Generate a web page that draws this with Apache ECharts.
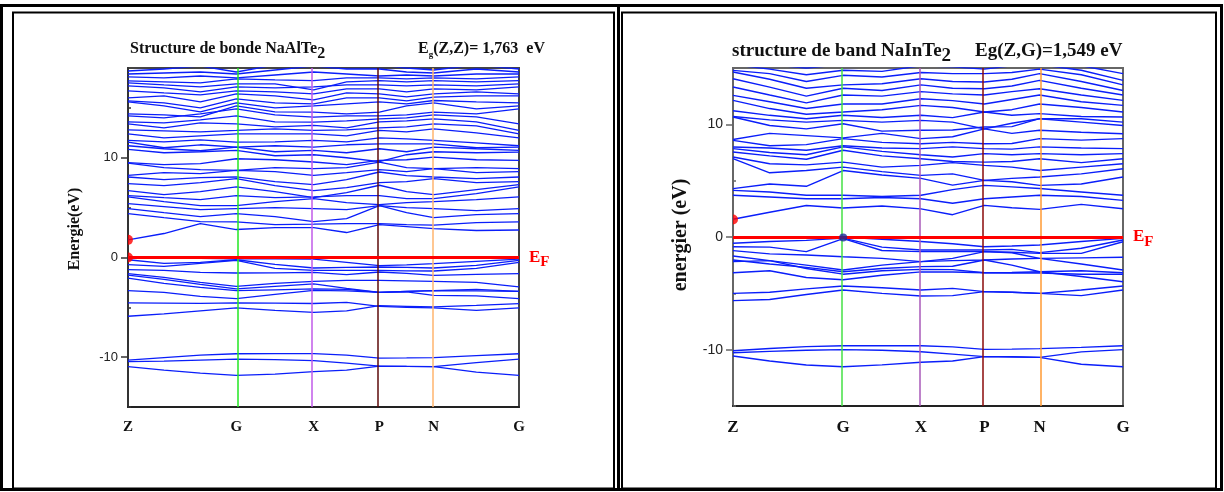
<!DOCTYPE html>
<html>
<head>
<meta charset="utf-8">
<title>Structure de bande NaAlTe2 / NaInTe2</title>
<script src="https://cdn.jsdelivr.net/npm/echarts@6.0.0/dist/echarts.min.js"></script>
<style>
  html, body { margin: 0; padding: 0; background: #fff; }
  #chart { width: 1224px; height: 492px; }
</style>
</head>
<body>
<div id="chart"></div>
<script>
// points de haute symetrie
const kNames = ['Z', 'G', 'X', 'P', 'N', 'G'];
const kSymAl = [0, 0.277, 0.475, 0.643, 0.782, 1];
const kSymIn = [0, 0.2825, 0.482, 0.6446, 0.786, 1];
// abscisses des points k
const kPathAl = [0, 0.092, 0.185, 0.277, 0.376, 0.475, 0.559, 0.643, 0.7125, 0.782, 0.891, 1];
const kPathIn = [0, 0.094, 0.188, 0.2825, 0.382, 0.482, 0.563, 0.6446, 0.715, 0.786, 0.893, 1];

// gaps (eV)
const gapAl = 1.763;
const gapIn = 1.549;

// NaAlTe2 - bandes (eV)
const alDeep = [
  [-10.30, -10.05, -9.80, -9.66, -9.65, -9.65, -9.80, -10.10, -10.08, -10.05, -9.85, -9.66],
  [-10.45, -10.40, -10.30, -10.20, -10.25, -10.35, -10.60, -10.90, -10.93, -10.95, -10.55, -10.20],
  [-10.96, -11.30, -11.60, -11.83, -11.70, -11.45, -11.30, -10.90, -10.93, -10.96, -11.50, -11.83]
];
const alSemi = [
  [-4.56, -4.58, -4.60, -4.56, -4.58, -4.62, -4.50, -4.90, -5.00, -5.06, -5.30, -5.06],
  [-5.90, -5.65, -5.35, -5.06, -5.30, -5.50, -5.35, -4.83, -4.90, -4.96, -4.80, -4.63]
];
const alValence = [
  [0.00, -0.05, -0.10, -0.13, -0.15, -0.16, -0.50, -0.83, -0.75, -0.63, -0.40, -0.16],
  [-0.23, -0.60, -0.50, -0.23, -0.70, -1.06, -1.00, -0.96, -1.00, -1.06, -0.80, -0.30],
  [-0.73, -0.90, -0.60, -0.30, -1.10, -1.30, -1.30, -1.30, -1.35, -1.36, -1.10, -0.50],
  [-1.23, -1.30, -1.50, -1.56, -1.55, -1.50, -1.73, -1.46, -1.60, -1.80, -1.70, -1.63],
  [-1.63, -2.00, -2.50, -2.90, -2.60, -2.40, -2.30, -2.30, -2.35, -2.40, -2.50, -2.96],
  [-1.77, -2.20, -2.70, -3.16, -2.90, -2.66, -3.10, -3.50, -3.40, -3.33, -3.35, -3.40],
  [-2.07, -2.60, -3.00, -3.33, -3.25, -3.16, -3.20, -3.50, -3.45, -3.80, -3.85, -4.13],
  [-3.33, -3.50, -3.90, -4.13, -3.70, -3.30, -3.35, -3.50, -3.40, -3.33, -3.20, -3.40]
];
const alConduction = [
  [1.76, 2.40, 3.40, 2.80, 3.00, 3.00, 2.50, 3.30, 3.10, 2.90, 2.70, 2.75],
  [4.40, 4.00, 3.60, 3.57, 3.30, 3.34, 3.40, 3.40, 3.30, 3.24, 3.50, 3.57],
  [4.90, 4.50, 4.10, 4.40, 4.10, 3.60, 3.90, 5.20, 4.50, 4.00, 4.30, 4.40],
  [5.40, 5.10, 4.80, 4.90, 5.00, 4.90, 4.80, 5.20, 5.00, 4.90, 4.70, 4.90],
  [6.07, 5.60, 5.20, 5.20, 5.60, 5.90, 5.50, 5.30, 5.50, 5.60, 5.80, 6.07],
  [6.20, 6.00, 5.80, 6.20, 6.00, 6.07, 6.20, 6.20, 5.90, 5.90, 6.40, 7.07],
  [6.70, 6.30, 6.60, 7.07, 6.60, 6.00, 6.50, 7.24, 6.60, 6.30, 6.80, 7.30],
  [7.40, 7.20, 7.50, 7.90, 7.20, 6.70, 7.00, 7.50, 7.60, 7.90, 7.50, 7.60],
  [8.07, 7.80, 8.00, 8.07, 7.60, 7.30, 7.80, 8.57, 8.20, 8.07, 7.90, 8.07],
  [8.24, 8.50, 8.40, 8.74, 8.60, 8.24, 8.50, 8.80, 8.60, 8.90, 8.50, 8.60],
  [9.47, 9.00, 8.80, 8.74, 9.00, 8.90, 9.00, 9.57, 9.00, 8.90, 9.00, 8.90],
  [9.50, 9.30, 9.40, 9.90, 9.80, 9.57, 9.30, 9.74, 9.80, 10.07, 9.80, 9.74],
  [10.84, 10.50, 10.60, 10.74, 10.20, 10.30, 10.00, 9.60, 10.30, 10.60, 10.50, 10.57],
  [11.20, 10.90, 10.70, 11.07, 10.60, 10.74, 10.50, 10.90, 10.60, 11.07, 10.90, 10.74],
  [11.57, 11.00, 11.30, 11.07, 11.20, 11.07, 11.30, 11.40, 11.40, 11.40, 11.00, 11.07],
  [11.74, 11.60, 11.80, 11.57, 11.60, 11.74, 11.60, 12.00, 11.90, 11.74, 11.50, 11.20],
  [12.40, 12.00, 12.20, 12.40, 12.40, 12.40, 12.20, 12.74, 12.60, 12.90, 12.50, 12.00],
  [12.80, 12.70, 12.60, 12.74, 12.90, 12.74, 12.80, 13.00, 13.10, 13.40, 13.20, 12.40],
  [13.40, 13.00, 13.50, 13.40, 13.10, 13.24, 13.00, 13.60, 13.70, 13.90, 13.60, 12.74],
  [13.60, 13.50, 13.80, 14.20, 13.60, 13.57, 13.70, 13.90, 14.00, 14.30, 14.10, 13.40],
  [14.20, 14.00, 14.40, 14.90, 14.30, 14.07, 14.20, 14.20, 14.30, 14.57, 14.40, 14.90],
  [14.40, 14.30, 14.10, 15.20, 14.60, 14.57, 14.40, 14.57, 15.20, 15.50, 14.90, 15.20],
  [15.60, 15.20, 14.60, 15.50, 15.00, 15.20, 15.40, 15.60, 15.40, 15.74, 15.60, 15.50],
  [15.70, 15.50, 15.00, 15.90, 15.50, 15.40, 16.00, 16.00, 15.70, 16.07, 16.20, 16.20],
  [16.00, 16.20, 15.60, 16.40, 16.20, 15.80, 16.50, 16.40, 16.10, 16.40, 16.60, 16.40],
  [16.70, 16.50, 16.30, 16.70, 16.60, 16.40, 16.90, 16.90, 16.60, 16.90, 16.80, 17.10],
  [17.20, 17.00, 16.60, 17.10, 17.00, 17.10, 17.30, 17.30, 17.20, 17.30, 17.20, 17.40],
  [17.50, 17.30, 17.10, 17.40, 17.40, 16.80, 17.60, 17.74, 17.60, 17.74, 17.60, 17.74],
  [17.70, 17.60, 17.50, 17.90, 17.80, 17.74, 18.00, 18.00, 17.90, 18.00, 17.90, 18.10],
  [18.10, 18.00, 18.20, 18.00, 18.30, 18.60, 18.40, 18.20, 18.30, 18.20, 18.40, 18.40],
  [18.40, 18.50, 18.60, 18.40, 18.80, 19.20, 18.90, 18.90, 18.60, 18.50, 18.90, 18.60],
  [18.70, 18.90, 19.20, 18.60, 19.30, 19.60, 19.40, 19.30, 19.00, 18.80, 19.30, 18.90]
];

// NaInTe2 - bandes (eV)
const inDeep = [
  [-10.10, -9.90, -9.73, -9.65, -9.65, -9.65, -9.75, -9.97, -9.95, -9.91, -9.80, -9.65],
  [-10.27, -10.15, -10.05, -10.00, -10.05, -10.18, -10.40, -10.62, -10.62, -10.68, -10.20, -10.00],
  [-10.56, -11.00, -11.36, -11.51, -11.35, -11.12, -11.00, -10.62, -10.65, -10.68, -11.30, -11.51]
];
const inSemi = [
  [-5.00, -4.90, -4.60, -4.35, -4.50, -4.70, -4.56, -4.85, -4.90, -5.00, -4.70, -4.35],
  [-5.65, -5.55, -5.10, -4.70, -5.00, -5.24, -5.20, -4.85, -4.90, -5.00, -5.20, -4.70]
];
const inValence = [
  [-0.12, -0.10, -0.10, 0.00, -0.20, -0.40, -0.60, -0.86, -0.80, -0.71, -0.40, -0.12],
  [-0.56, -0.40, -0.30, -0.10, -0.90, -1.15, -1.15, -1.15, -1.10, -1.39, -1.00, -0.27],
  [-0.86, -0.90, -1.30, -0.15, -1.20, -1.30, -1.30, -1.30, -1.35, -1.45, -1.45, -0.42],
  [-1.21, -1.50, -1.60, -1.75, -1.90, -2.19, -2.10, -2.04, -1.95, -1.90, -1.85, -1.80],
  [-1.69, -2.10, -2.50, -2.93, -2.50, -2.19, -1.90, -1.30, -1.40, -1.90, -2.40, -2.93],
  [-2.04, -2.40, -2.70, -3.08, -2.80, -2.63, -2.60, -2.04, -2.50, -3.08, -3.00, -3.17],
  [-2.19, -2.10, -2.80, -3.30, -3.00, -2.87, -2.90, -3.17, -3.15, -3.08, -3.50, -3.97],
  [-3.17, -3.00, -3.60, -3.80, -3.40, -3.10, -3.10, -3.17, -3.20, -3.20, -3.30, -3.30]
];
const inConduction = [
  [1.57, 2.20, 2.80, 2.57, 2.75, 2.50, 1.98, 2.81, 2.60, 2.45, 2.90, 2.51],
  [3.70, 3.55, 3.40, 3.40, 3.50, 3.40, 3.00, 3.40, 3.55, 3.70, 3.60, 3.25],
  [4.14, 4.00, 3.70, 3.70, 3.60, 3.70, 4.20, 4.58, 4.45, 4.30, 4.00, 3.70],
  [4.29, 4.70, 4.50, 5.90, 5.50, 5.20, 4.60, 5.03, 4.90, 4.58, 4.70, 5.33],
  [6.95, 5.70, 5.90, 6.20, 5.80, 5.47, 5.60, 5.03, 5.20, 5.33, 5.60, 6.06],
  [7.10, 6.50, 6.40, 6.65, 6.20, 6.36, 6.60, 6.36, 6.20, 5.90, 6.20, 6.50],
  [7.54, 7.20, 6.90, 7.70, 7.20, 6.95, 6.70, 6.65, 6.70, 6.95, 6.60, 6.95],
  [7.84, 7.50, 7.30, 8.00, 7.60, 7.30, 7.10, 7.40, 7.30, 7.40, 7.30, 7.40],
  [7.99, 7.90, 7.70, 8.10, 7.90, 7.84, 8.00, 7.84, 7.80, 8.00, 7.90, 7.84],
  [8.58, 8.10, 8.20, 8.73, 8.40, 8.28, 8.40, 8.28, 8.30, 8.73, 8.60, 8.73],
  [8.65, 9.20, 9.00, 8.80, 9.20, 8.73, 8.90, 9.60, 9.20, 9.47, 9.30, 9.17],
  [10.65, 9.90, 9.60, 10.05, 9.40, 9.47, 9.50, 9.76, 9.80, 10.50, 10.20, 9.90],
  [10.70, 10.40, 10.20, 10.35, 10.20, 10.35, 10.20, 9.60, 10.10, 10.50, 10.50, 10.20],
  [11.20, 10.80, 10.50, 10.80, 10.60, 10.80, 10.60, 11.09, 10.80, 10.95, 10.70, 10.65],
  [12.13, 11.40, 10.90, 11.09, 11.30, 11.68, 11.50, 11.09, 11.30, 11.80, 11.50, 11.09],
  [12.57, 12.00, 11.40, 11.80, 11.80, 12.27, 12.10, 11.80, 12.20, 12.60, 12.00, 11.68],
  [13.31, 12.60, 11.90, 12.60, 12.50, 12.90, 12.70, 12.60, 12.90, 13.16, 12.60, 12.13],
  [14.05, 13.30, 12.50, 13.20, 13.00, 13.50, 13.20, 13.16, 13.40, 13.90, 13.20, 12.60],
  [14.64, 14.00, 13.20, 13.50, 13.60, 14.05, 13.80, 13.76, 14.00, 14.50, 13.80, 13.00],
  [14.79, 14.50, 13.80, 14.35, 14.20, 14.60, 14.50, 14.50, 14.60, 14.90, 14.40, 13.50],
  [15.30, 14.90, 14.40, 14.80, 14.70, 15.20, 15.10, 14.90, 15.20, 15.30, 14.80, 13.90],
  [15.60, 15.30, 15.00, 15.30, 15.20, 15.60, 15.50, 15.40, 15.60, 15.70, 15.20, 14.50]
];

// extrema (points marques sur la figure)
const alDots = [[0, 0], [0, gapAl]];
const inRedDots = [[0, gapIn]];
const inBlueDots = [[0.2825, -0.05]];

const kColorsAl = ['#22e622', '#c05ae8', '#5c0a0a', '#ffb46e'];
const kColorsIn = ['#44e044', '#a858b8', '#8a0a0a', '#ff9a33'];

const SERIF = "'Liberation Serif', 'Times New Roman', serif";
const SANS = "'Liberation Sans', Arial, sans-serif";
// demi-disque : le point est coupe par l'axe
const HALF_DOT = 'path://M0,0A10,10,0,0,1,0,20Z';

var chart = echarts.init(document.getElementById('chart'));

function bandSeries(bands, kPath, gi, width) {
  return bands.map(function (b) {
    return {
      type: 'line',
      xAxisIndex: gi,
      yAxisIndex: gi * 2,
      data: kPath.map(function (k, i) { return [k, b[i]]; }),
      showSymbol: false,
      silent: true,
      animation: false,
      lineStyle: { color: '#0a1efa', width: width },
      z: 2
    };
  });
}

function kName(kSym) {
  return function (v) {
    for (var i = 0; i < kSym.length; i++) {
      if (Math.abs(kSym[i] - v) < 1e-6) return kNames[i];
    }
    return '';
  };
}

function xAxisFor(gi, kSym, size) {
  return {
    type: 'value', gridIndex: gi, min: 0, max: 1,
    axisLine: { onZero: false, lineStyle: { color: '#222', width: 2 } },
    axisTick: { show: false },
    splitLine: { show: false },
    axisLabel: {
      customValues: kSym,
      formatter: kName(kSym),
      margin: 13,
      fontFamily: SERIF, fontWeight: 'bold', fontSize: size, color: '#111'
    }
  };
}

function yAxesFor(gi, max, size, axisColor) {
  return [{
    type: 'value', gridIndex: gi, min: -15, max: max,
    axisLine: { show: true, onZero: false, lineStyle: { color: axisColor, width: 2 } },
    axisTick: { customValues: [-10, 0, 10], length: 7, lineStyle: { color: axisColor, width: 1.5 } },
    axisLabel: { customValues: [-10, 0, 10], fontFamily: SANS, fontSize: size, color: '#222', margin: 10 },
    splitLine: { show: false }
  }, {
    type: 'value', gridIndex: gi, min: -15, max: max,
    axisLine: { show: false },
    axisTick: { customValues: max > 15 ? [-15, -5, 5, 15] : [-15, -5, 5], length: 3, lineStyle: { color: axisColor, width: 1.5 } },
    axisLabel: { show: false },
    splitLine: { show: false }
  }];
}

function kLines(kSym, colors, gi, dots, efSize) {
  var lines = kSym.slice(1, 5).map(function (k, i) {
    return { xAxis: k, lineStyle: { color: colors[i], width: 1.5, type: 'solid' } };
  });
  lines.push({
    yAxis: 0,
    lineStyle: { color: '#ff0000', width: 3, type: 'solid' },
    label: {
      show: true, position: 'end', distance: 10,
      formatter: '{e|E}{f|F}',
      rich: {
        e: { fontFamily: SERIF, fontWeight: 'bold', fontSize: efSize, color: '#ff0000' },
        f: { fontFamily: SERIF, fontWeight: 'bold', fontSize: efSize - 2, color: '#ff0000', padding: [10, 0, 0, 0] }
      }
    }
  });
  return {
    type: 'scatter', xAxisIndex: gi, yAxisIndex: gi * 2,
    data: dots, symbol: HALF_DOT, symbolSize: [5, 10], symbolOffset: [2.5, 0],
    clip: true, silent: true, animation: false,
    itemStyle: { color: '#ff0000' }, z: 5,
    markLine: {
      silent: true, animation: false, symbol: ['none', 'none'],
      label: { show: false },
      data: lines
    }
  };
}

var series = []
  .concat(bandSeries(alDeep, kPathAl, 0, 1.3))
  .concat(bandSeries(alSemi, kPathAl, 0, 1.3))
  .concat(bandSeries(alValence, kPathAl, 0, 1.3))
  .concat(bandSeries(alConduction, kPathAl, 0, 1.3))
  .concat(bandSeries(inDeep, kPathIn, 1, 1.4))
  .concat(bandSeries(inSemi, kPathIn, 1, 1.4))
  .concat(bandSeries(inValence, kPathIn, 1, 1.4))
  .concat(bandSeries(inConduction, kPathIn, 1, 1.4));

series.push(kLines(kSymAl, kColorsAl, 0, alDots, 17));
series.push(kLines(kSymIn, kColorsIn, 1, inRedDots, 17));
series.push({
  type: 'scatter', xAxisIndex: 1, yAxisIndex: 2,
  data: inBlueDots, symbolSize: 8, clip: true, silent: true, animation: false,
  itemStyle: { color: '#1a2a9a' }, z: 6
});

var option = {
  backgroundColor: '#fff',
  animation: false,
  grid: [
    { left: 128, top: 68, width: 391, height: 339, show: true, borderColor: '#444', borderWidth: 2 },
    { left: 733, top: 68, width: 390, height: 338, show: true, borderColor: '#666', borderWidth: 2 }
  ],
  xAxis: [xAxisFor(0, kSymAl, 15), xAxisFor(1, kSymIn, 17)],
  yAxis: yAxesFor(0, 19, 13, '#333').concat(yAxesFor(1, 15, 14, '#666')),
  series: series,
  graphic: [
    // cadres
    { type: 'rect', shape: { x: 1.5, y: 5.5, width: 1220, height: 484 }, style: { fill: 'none', stroke: '#000', lineWidth: 3 }, silent: true },
    { type: 'rect', shape: { x: 13, y: 12.5, width: 601, height: 476 }, style: { fill: 'none', stroke: '#000', lineWidth: 2 }, silent: true },
    { type: 'rect', shape: { x: 617, y: 5.5, width: 3, height: 484 }, style: { fill: '#000' }, silent: true },
    { type: 'rect', shape: { x: 622, y: 12.5, width: 594, height: 476 }, style: { fill: 'none', stroke: '#000', lineWidth: 2 }, silent: true },
    // titres
    {
      type: 'text', left: 130, top: 41, silent: true,
      style: {
        text: '{t|Structure de bonde NaAlTe}{s|2}',
        rich: {
          t: { fontFamily: SERIF, fontWeight: 'bold', fontSize: 16, fill: '#111' },
          s: { fontFamily: SERIF, fontWeight: 'bold', fontSize: 16, fill: '#111', padding: [9, 0, 0, 0] }
        }
      }
    },
    {
      type: 'text', left: 418, top: 41, silent: true,
      style: {
        text: '{t|E}{s|g}{t|(Z,Z)= 1,763  eV}',
        rich: {
          t: { fontFamily: SERIF, fontWeight: 'bold', fontSize: 16, fill: '#111' },
          s: { fontFamily: SERIF, fontWeight: 'bold', fontSize: 9, fill: '#111', padding: [12, 0, 0, 0] }
        }
      }
    },
    {
      type: 'text', left: 732, top: 42, silent: true,
      style: {
        text: '{t|structure de band NaInTe}{s|2}',
        rich: {
          t: { fontFamily: SERIF, fontWeight: 'bold', fontSize: 19, fill: '#111' },
          s: { fontFamily: SERIF, fontWeight: 'bold', fontSize: 19, fill: '#111', padding: [10, 0, 0, 0] }
        }
      }
    },
    {
      type: 'text', left: 975, top: 42, silent: true,
      style: {
        text: 'Eg(Z,G)=1,549 eV',
        fontFamily: SERIF, fontWeight: 'bold', fontSize: 19, fill: '#111'
      }
    },
    // titres des axes
    {
      type: 'text', x: 75, y: 229, rotation: Math.PI / 2, silent: true,
      style: {
        text: 'Energie(eV)', fontFamily: SERIF, fontWeight: 'bold', fontSize: 16, fill: '#111',
        align: 'center', verticalAlign: 'middle'
      }
    },
    {
      type: 'text', x: 681, y: 235, rotation: Math.PI / 2, silent: true,
      style: {
        text: 'energier (eV)', fontFamily: SERIF, fontWeight: 'bold', fontSize: 20, fill: '#111',
        align: 'center', verticalAlign: 'middle'
      }
    }
  ]
};

chart.setOption(option);
</script>
</body>
</html>
